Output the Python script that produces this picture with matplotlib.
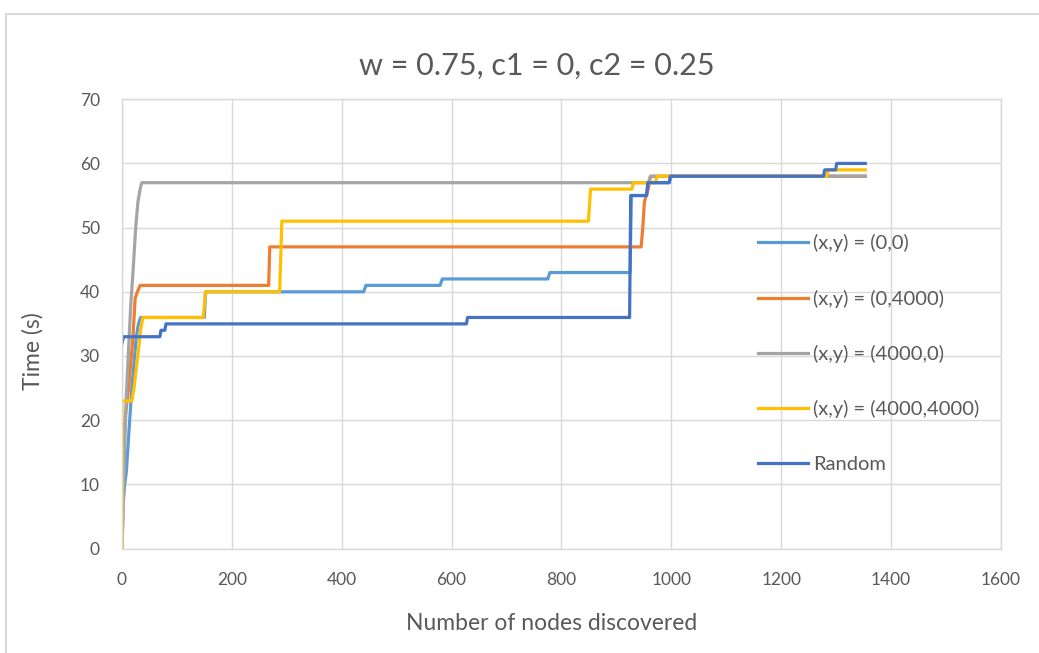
import matplotlib.pyplot as plt
from matplotlib.patches import Rectangle

plt.rcParams['font.family'] = ['Lato', 'DejaVu Sans']

title = "w = 0.75, c1 = 0, c2 = 0.25"
labels = ["(x,y) = (0,0)", "(x,y) = (0,4000)", "(x,y) = (4000,0)",
          "(x,y) = (4000,4000)", "Random"]
colors = ["#5B9BD5", "#ED7D31", "#A5A5A5", "#FFC000", "#4472C4"]

# nodes discovered vs. elapsed time, one pair of lists per start position
nodes_00 = [0, 2, 5, 8, 11, 14, 18, 22, 26, 30, 34, 150, 152, 440, 444, 579, 583,
            775, 779, 925, 927, 955, 958, 996, 1000, 1353]
time_00 = [0, 7, 10, 12, 16, 20, 25, 29, 33, 35, 36, 36, 40, 40, 41, 41, 42,
           42, 43, 43, 55, 55, 57, 57, 58, 58]

nodes_04 = [0, 1, 4, 8, 12, 16, 20, 24, 28, 33, 267, 269, 945, 948, 951, 954,
            958, 962, 1353]
time_04 = [0, 16, 19, 22, 25, 29, 33, 39, 40, 41, 41, 47, 47, 50, 54, 55,
           56, 58, 58]

nodes_40 = [0, 2, 5, 8, 12, 16, 20, 25, 29, 33, 36, 958, 962, 1353]
time_40 = [0, 5, 16, 24, 31, 38, 43, 50, 54, 56, 57, 57, 58, 58]

nodes_44 = [0, 0, 18, 22, 26, 30, 34, 38, 148, 152, 287, 291, 849, 853, 928,
            931, 971, 974, 1283, 1286, 1353]
time_44 = [0, 23, 23, 25, 28, 31, 34, 36, 36, 40, 40, 51, 51, 56, 56,
           57, 57, 58, 58, 59, 59]

nodes_rnd = [0, 3, 69, 71, 78, 80, 627, 629, 924, 926, 955, 957, 996, 998,
             1277, 1279, 1299, 1301, 1353]
time_rnd = [32, 33, 33, 34, 34, 35, 35, 36, 36, 55, 55, 57, 57, 58,
            58, 59, 59, 60, 60]

series = [(nodes_00, time_00), (nodes_04, time_04), (nodes_40, time_40),
          (nodes_44, time_44), (nodes_rnd, time_rnd)]

text_col = "#595959"
grid_col = "#D9D9D9"

fig = plt.figure(figsize=(10.39, 6.53), dpi=100)
ax = fig.add_axes([0.1174, 0.160, 0.846, 0.688])

for (xs, ys), lab, col in zip(series, labels, colors):
    ax.plot(xs, ys, color=col, lw=2.3, label=lab, solid_joinstyle='round')

ax.set_xlim(0, 1600)
ax.set_ylim(0, 70)
ax.set_xticks(range(0, 1601, 200))
ax.set_yticks(range(0, 71, 10))
ax.grid(True, color=grid_col, lw=1)
ax.set_axisbelow(True)
for s in ax.spines.values():
    s.set_color(grid_col)
    s.set_linewidth(1)
ax.tick_params(axis='x', length=0, labelsize=12.5, colors=text_col, pad=17)
ax.tick_params(axis='y', length=0, labelsize=12.5, colors=text_col, pad=16)

# title sits centred on the whole chart area, not the plot area
fig.text(0.517, 0.900, title, fontsize=22, color=text_col, ha='center', va='center')
ax.set_xlabel("Number of nodes discovered", fontsize=16.5, color=text_col)
ax.xaxis.set_label_coords(0.489, -0.143)
ax.set_ylabel("Time (s)", fontsize=16.5, color=text_col)
ax.yaxis.set_label_coords(-0.089, 0.44)

leg = ax.legend(loc='upper left', bbox_to_anchor=(0.703, 0.740), frameon=False,
                fontsize=14.5, labelspacing=1.85, handlelength=2.5, handletextpad=0.25,
                labelcolor=text_col)
for h in leg.get_lines():
    h.set_linewidth(2.3)

# chart area outline
fig.patches.append(Rectangle((0.006, -0.1), 1.2, 1.1 - 0.021, transform=fig.transFigure,
                             fill=False, edgecolor=grid_col, lw=1.5))

fig.savefig("out.png", dpi=100)
